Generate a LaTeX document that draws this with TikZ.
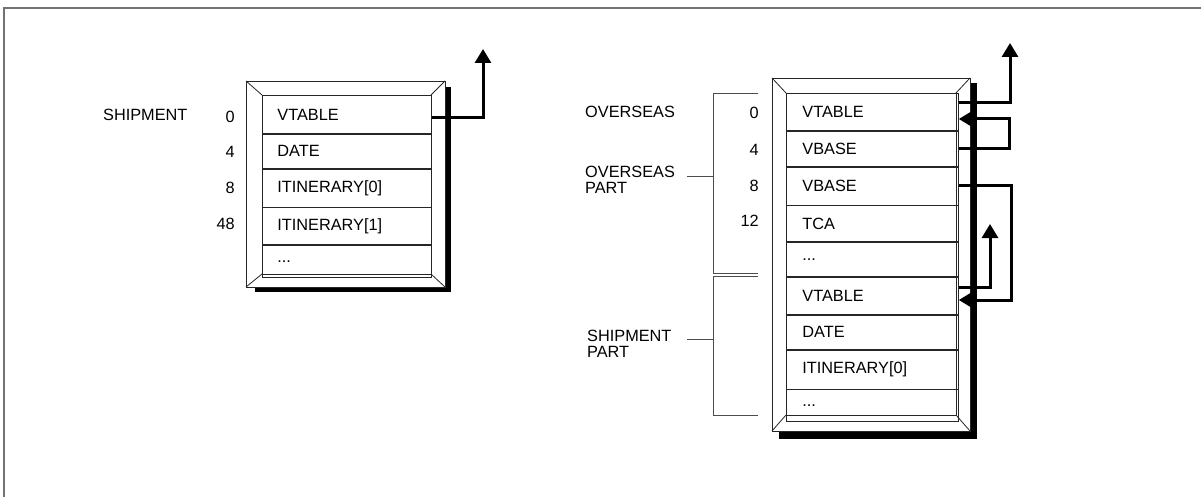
\documentclass[tikz,border=0pt]{standalone}
\usepackage{fontspec}
\setmainfont{Liberation Sans}
\usetikzlibrary{arrows.meta}
\begin{document}
\begin{tikzpicture}[x=1pt,y=-1pt,
  lbl/.style={font=\fontsize{16.3pt}{16.5pt}\selectfont, inner sep=0pt},
  boxline/.style={draw=black!85, line width=0.8pt},
  lrow/.style={boxline, lbl, anchor=north west, minimum width=169pt, text width=139pt, inner xsep=15pt, inner ysep=0pt, align=left},
  rrow/.style={boxline, lbl, anchor=north west, minimum width=170pt, text width=140pt, inner xsep=16pt, inner ysep=0pt, align=left},
  arr/.style={line width=3pt, line join=miter, -{Triangle[length=14pt,width=16pt]}},
  brk/.style={draw=black!70, line width=0.8pt},
  shadow/.style={fill=black, draw=none}]
\useasboundingbox (0,0) rectangle (1201,497);
% frame
\draw[black!55, line width=1.5pt] (4,497) -- (4,8) -- (1201,8);

% ---------- left object: SHIPMENT ----------
\fill[shadow] (446,87) rectangle (451,292);
\fill[shadow] (255,287) rectangle (451,292);
\draw[boxline, fill=white] (246,81) rectangle (445,287);
\draw[boxline] (262,95) rectangle (431,274);
\draw[boxline] (246,81) -- (262,95) (445,81) -- (431,95) (246,287) -- (262,274) (445,287) -- (431,274);
\node[lrow, minimum height=38pt] (s0) at (262,95) {VTABLE};
\node[lrow, minimum height=34pt] (s1) at (s0.south west) {DATE};
\node[lrow, minimum height=38pt] (s2) at (s1.south west) {ITINERARY[0]};
\node[lrow, minimum height=37pt] (s3) at (s2.south west) {ITINERARY[1]};
\node[lrow, minimum height=32pt] (s4) at (s3.south west) {...};

\node[lbl, anchor=west] (shiplbl) at (103,115) {SHIPMENT};
\node[lbl, anchor=east] (sn0) at (235,117) {0};
\node[lbl, anchor=east] (sn1) at (235,152) {4};
\node[lbl, anchor=east] (sn2) at (235,188) {8};
\node[lbl, anchor=east] (sn3) at (235,224) {48};

\coordinate (tipA) at (483,49);
\draw[arr] ([yshift=-3pt]s0.east) -| (tipA);

% ---------- right object: OVERSEAS ----------
\fill[shadow] (971,83) rectangle (977,439);
\fill[shadow] (779,432) rectangle (977,439);
\draw[boxline, fill=white] (772,78) rectangle (970,431);
\draw[boxline] (786,93) rectangle (956,415);
\draw[boxline] (772,78) -- (786,93) (970,78) -- (956,93) (772,431) -- (786,415) (970,431) -- (956,415);
\node[rrow, minimum height=37pt] (o0) at (786,93) {VTABLE};
\node[rrow, minimum height=35pt] (o1) at (o0.south west) {VBASE};
\node[rrow, minimum height=38pt] (o2) at (o1.south west) {VBASE};
\node[rrow, minimum height=36pt] (o3) at (o2.south west) {TCA};
\node[rrow, minimum height=34pt] (o4) at (o3.south west) {...};
\node[rrow, minimum height=37pt] (o5) at (o4.south west) {VTABLE};
\node[rrow, minimum height=34pt] (o6) at (o5.south west) {DATE};
\node[rrow, minimum height=39pt] (o7) at (o6.south west) {ITINERARY[0]};
\node[rrow, minimum height=32pt] (o8) at (o7.south west) {...};

\node[lbl, anchor=east] (on0) at (759,113) {0};
\node[lbl, anchor=east] (on1) at (759,150) {4};
\node[lbl, anchor=east] (on2) at (759,186) {8};
\node[lbl, anchor=east] (on3) at (759,221) {12};

\node[lbl, anchor=west] (ovlbl) at (585,112) {OVERSEAS};
\node[lbl, anchor=west, align=left] (opl) at (585,180) {OVERSEAS\\PART};
\node[lbl, anchor=west, align=left] (spl) at (587,344) {SHIPMENT\\PART};

% brackets
\draw[brk] (758,93) -| (713,273) -- (758,273);
\draw[brk] (758,276) -| (713,415) -- (758,415);
\coordinate (ob) at (713,176);
\coordinate (sb) at (713,339);
\draw[brk] (687,176) -- (ob);
\draw[brk] (687,339) -- (sb);

% pointers
\coordinate (tipB) at (1010,43);
\draw[arr] ([yshift=9.5pt]o0.east) -| (tipB);
\coordinate (c2) at (1009,119);
\draw[arr] (o1.east) -| (c2) -- (c2 -| o0.east);
\coordinate (c3) at (1011,300);
\draw[arr] (o2.east) -| (c3) -- (c3 -| o5.east);
\coordinate (tipD) at (990,224);
\draw[arr] ([yshift=8.5pt]o5.east) -| (tipD);
\end{tikzpicture}
\end{document}
